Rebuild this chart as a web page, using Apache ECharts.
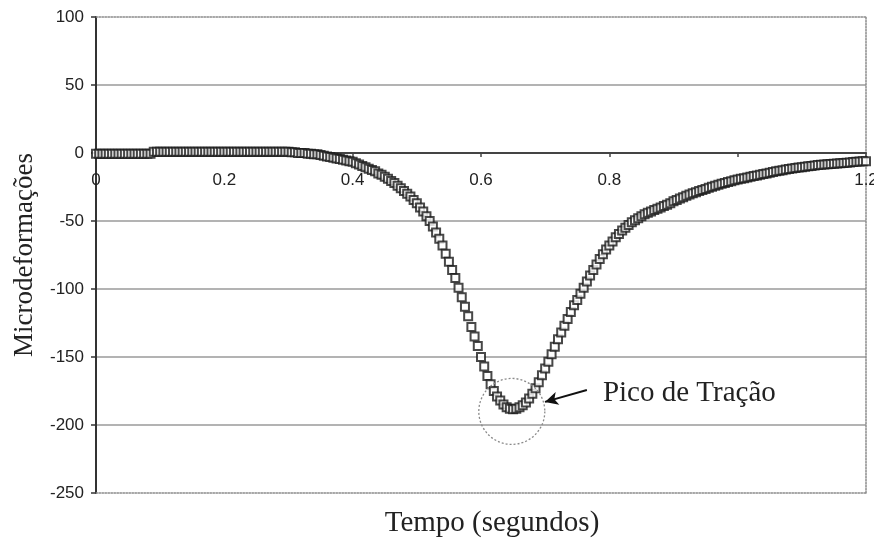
<!DOCTYPE html>
<html><head><meta charset="utf-8">
<script src="https://cdn.jsdelivr.net/npm/echarts/dist/echarts.min.js"></script>
<style>html,body{margin:0;padding:0;background:#fff}#c{width:874px;height:543px}</style>
</head><body><div id="c"></div>
<script>
// Sampling interval of the strain record (seconds)
const SAMPLE_STEP = 0.005;
// Strain values (microstrain), one per sample, starting at t = 0 (rows of 0.05 s)
const strain = [
  -0.5,-0.5,-0.5,-0.5,-0.5,-0.5,-0.5,-0.5,-0.5,-0.5,
  -0.5,-0.5,-0.5,-0.5,-0.5,-0.5,-0.5,-0.5,1,1,
  1,1,1,1,1,1,1,1,1,1,
  1,1,1,1,1,1,1,1,1,1,
  1,1,1,1,1,1,1,1,1,1,
  1,1,1,1,1,1,1,1,1,1,
  1,0.5,0.5,0,0,0,-0.5,-0.5,-1,-1,
  -1.5,-2,-2.5,-3,-3.5,-4,-4.5,-5,-5.5,-6,
  -6.5,-7.5,-8.5,-9.5,-10.5,-11.5,-12.5,-13.5,-15,-16,
  -17.5,-19,-20.5,-22,-24,-26,-28,-30,-32,-34.5,
  -37,-40,-43,-46.5,-50,-54,-58.5,-63,-68,-74,
  -80,-86,-92,-99,-106,-113,-120,-128,-135,-142,
  -150,-157,-164,-170,-175,-179,-182,-185,-187,-188,
  -188.5,-188,-187,-185.5,-183.5,-180.5,-177,-173,-168.5,-163.5,
  -158.5,-153.5,-148,-142.5,-137,-132,-127,-122,-117,-112,
  -108,-103.5,-99,-94.5,-90,-86,-82,-78,-74.5,-71,
  -68,-65,-62,-59.5,-57,-55,-53,-51,-49.5,-48,
  -46.5,-45,-44,-43,-42,-41,-40,-39,-38,-37,
  -35.5,-34.5,-33.5,-32.5,-31.5,-30.5,-29.6,-28.8,-28,-27.2,
  -26.4,-25.6,-24.8,-24,-23.3,-22.6,-22,-21.3,-20.7,-20.1,
  -19.5,-19,-18.5,-18,-17.5,-17,-16.5,-16,-15.5,-15,
  -14.5,-14,-13.5,-13,-12.6,-12.2,-11.8,-11.4,-11,-10.7,
  -10.4,-10.1,-9.8,-9.5,-9.2,-8.9,-8.7,-8.5,-8.3,-8.1,
  -7.9,-7.7,-7.5,-7.3,-7.1,-6.9,-6.7,-6.5,-6.3,-6.1,
  -6
];
const xRange = [0, 1.2];
const xStep = 0.2;
// tick labels hidden under the data markers in the original
const hiddenXLabels = [1];
const yRange = [-250, 100];
const yStep = 50;
const xTitle = 'Tempo (segundos)';
const yTitle = 'Microdeformações';
// annotation anchors (data units)
const peakLabel = 'Pico de Tração';
const peakCircleCenter = [0.648, -190];
const arrowTail = [0.765, -174.3];
const arrowHead = [0.6997, -183];
const labelAnchor = [0.79, -176.5];

const points = strain.map((v, i) => [+(i * SAMPLE_STEP).toFixed(3), v]);

const W = 874, H = 543;
const GRID = {left: 96, right: 8, top: 17, bottom: 50};
const gridH = H - GRID.top - GRID.bottom;
// place the time axis on the zero strain line
const zeroOffset = -(0 - yRange[0]) / (yRange[1] - yRange[0]) * gridH;

const chart = echarts.init(document.getElementById('c'));
const sans = 'Liberation Sans, Arial, sans-serif';
const serif = 'Liberation Serif, Times New Roman, serif';
const gridColors = [];
for (let v = yRange[0]; v <= yRange[1]; v += yStep) {
  gridColors.push(v === yRange[0] || v === yRange[1] ? 'rgba(0,0,0,0)' : '#9a9a9a');
}
const dottedBorder = {color: '#8a8a8a', type: 'dotted', width: 1.5};

chart.setOption({
  animation: false,
  backgroundColor: '#fff',
  grid: Object.assign({containLabel: false, outerBoundsMode: 'none'}, GRID),
  xAxis: [
    {
      type: 'value', min: xRange[0], max: xRange[1], interval: xStep, position: 'bottom',
      offset: zeroOffset,
      axisLine: {show: true, onZero: false, lineStyle: {color: '#444', width: 2}},
      axisTick: {show: true, length: 4, lineStyle: {color: '#444', width: 1.5}},
      axisLabel: {
        margin: 19, fontSize: 17, color: '#222', fontFamily: sans,
        formatter: v => hiddenXLabels.some(h => Math.abs(h - v) < 1e-9) ? '' : String(+v.toFixed(2))
      },
      splitLine: {show: false}
    },
    {
      type: 'value', min: xRange[0], max: xRange[1], position: 'bottom',
      axisLine: {show: true, onZero: false, lineStyle: dottedBorder},
      axisTick: {show: false}, axisLabel: {show: false}, splitLine: {show: false},
      name: xTitle, nameLocation: 'middle', nameGap: 16,
      nameTextStyle: {fontFamily: serif, fontSize: 29, color: '#222', padding: [0, 0, 0, 22]}
    },
    {
      type: 'value', min: xRange[0], max: xRange[1], position: 'top',
      axisLine: {show: true, onZero: false, lineStyle: dottedBorder},
      axisTick: {show: false}, axisLabel: {show: false}, splitLine: {show: false}
    }
  ],
  yAxis: [
    {
      type: 'value', min: yRange[0], max: yRange[1], interval: yStep, position: 'left',
      axisLine: {show: true, onZero: false, lineStyle: {color: '#333', width: 2}},
      axisTick: {show: true, length: 5, lineStyle: {color: '#333', width: 1.5}},
      axisLabel: {margin: 12, fontSize: 17, color: '#222', fontFamily: sans},
      splitLine: {show: true, lineStyle: {color: gridColors, width: 1.5}},
      name: yTitle, nameLocation: 'middle', nameRotate: 90, nameGap: 58,
      nameTextStyle: {fontFamily: serif, fontSize: 27, color: '#222'}
    },
    {
      type: 'value', min: yRange[0], max: yRange[1], position: 'right',
      axisLine: {show: true, onZero: false, lineStyle: dottedBorder},
      axisTick: {show: false}, axisLabel: {show: false}, splitLine: {show: false}
    }
  ],
  series: [{
    type: 'scatter',
    xAxisIndex: 0, yAxisIndex: 0,
    data: points,
    symbol: 'emptyRect',
    symbolSize: 8,
    clip: false,
    z: 5,
    itemStyle: {color: '#1a1a1a', borderColor: '#1a1a1a', borderWidth: 1.6},
    markLine: {
      silent: true,
      symbol: ['none', 'arrow'],
      symbolSize: [10, 13],
      label: {show: false},
      lineStyle: {color: '#111', width: 2, type: 'solid'},
      data: [[{coord: arrowTail}, {coord: arrowHead}]]
    }
  }]
});

const c = chart.convertToPixel({xAxisIndex: 0, yAxisIndex: 0}, peakCircleCenter);
const t = chart.convertToPixel({xAxisIndex: 0, yAxisIndex: 0}, labelAnchor);
chart.setOption({
  graphic: [
    {type: 'circle', z: 100, shape: {cx: c[0], cy: c[1], r: 33},
     style: {fill: 'none', stroke: '#8a8a8a', lineWidth: 1.3, lineDash: [2, 2]}},
    {type: 'text', z: 100, x: t[0], y: t[1],
     style: {text: peakLabel, fontFamily: serif, fontSize: 29, fill: '#222', align: 'left', verticalAlign: 'middle'}}
  ]
});
</script>
</body></html>
